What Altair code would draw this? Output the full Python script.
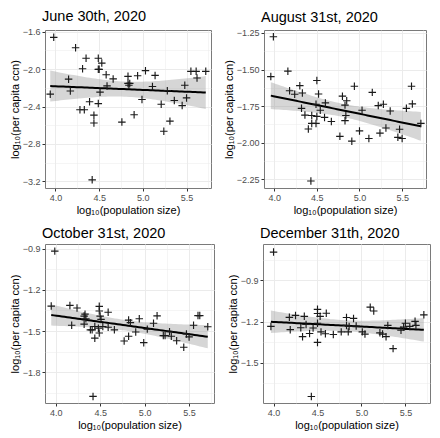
import json
import altair as alt
import numpy as np
import pandas as pd

titles = ["June 30th, 2020", "August 31st, 2020", "October 31st, 2020", "December 31th, 2020"]

jun_x = [3.94, 3.98, 4.15, 4.17, 4.23, 4.28, 4.31, 4.33, 4.35, 4.39, 4.42, 4.44, 4.44, 4.49, 4.49, 4.49,
         4.50, 4.51, 4.53, 4.58, 4.59, 4.66, 4.76, 4.83, 4.83, 4.84, 4.85, 4.90, 4.94, 4.99, 5.03, 5.11,
         5.14, 5.21, 5.24, 5.28, 5.31, 5.36, 5.45, 5.48, 5.50, 5.55, 5.61, 5.62, 5.72]
jun_y = [-2.268, -1.661, -2.108, -2.234, -1.773, -2.434, -1.997, -2.434, -1.885, -2.349, -3.183, -2.492,
         -2.576, -1.885, -2.003, -2.369, -2.003, -2.247, -1.936, -2.061, -2.180, -2.105, -2.566, -2.078,
         -2.153, -2.173, -2.153, -2.488, -2.071, -2.325, -2.017, -2.186, -2.068, -2.376, -2.664, -2.231,
         -2.556, -2.336, -2.390, -2.173, -2.308, -2.024, -2.024, -2.095, -2.024]

aug_x = [3.96, 3.99, 4.16, 4.18, 4.24, 4.30, 4.32, 4.33, 4.36, 4.40, 4.43, 4.44, 4.44, 4.49, 4.49, 4.50,
         4.50, 4.52, 4.54, 4.59, 4.60, 4.67, 4.77, 4.80, 4.83, 4.83, 4.84, 4.85, 4.91, 4.94, 5.00, 5.03,
         5.11, 5.15, 5.22, 5.24, 5.28, 5.31, 5.36, 5.45, 5.47, 5.50, 5.55, 5.61, 5.62, 5.72]
aug_y = [-1.548, -1.276, -1.511, -1.645, -1.669, -1.610, -1.765, -1.660, -1.811, -1.906, -2.261, -1.814,
         -1.868, -1.868, -1.737, -1.575, -1.820, -1.667, -1.778, -1.827, -1.728, -1.855, -1.956, -1.682,
         -1.743, -1.849, -1.814, -1.713, -1.989, -1.614, -1.919, -1.778, -1.971, -1.656, -1.746, -1.934,
         -1.737, -1.899, -1.783, -1.963, -1.908, -1.971, -1.765, -1.614, -1.735, -1.868]

oct_x = [3.95, 3.99, 4.16, 4.18, 4.24, 4.32, 4.32, 4.33, 4.34, 4.39, 4.41, 4.42, 4.44, 4.44, 4.48, 4.49,
         4.49, 4.49, 4.50, 4.51, 4.53, 4.59, 4.59, 4.66, 4.77, 4.82, 4.82, 4.84, 4.90, 4.94, 4.99, 5.03,
         5.10, 5.14, 5.21, 5.23, 5.28, 5.30, 5.36, 5.44, 5.47, 5.50, 5.55, 5.60, 5.62, 5.71]
oct_y = [-1.318, -0.917, -1.313, -1.458, -1.332, -1.391, -1.450, -1.377, -1.410, -1.491, -1.491, -1.977,
         -1.467, -1.552, -1.479, -1.320, -1.354, -1.514, -1.391, -1.415, -1.467, -1.363, -1.472, -1.491,
         -1.573, -1.538, -1.420, -1.439, -1.507, -1.410, -1.585, -1.486, -1.443, -1.389, -1.533, -1.533,
         -1.505, -1.538, -1.571, -1.618, -1.521, -1.543, -1.458, -1.387, -1.387, -1.469]

dec_x = [3.97, 4.00, 4.18, 4.19, 4.25, 4.31, 4.33, 4.35, 4.37, 4.41, 4.43, 4.45, 4.50, 4.50, 4.50, 4.50,
         4.53, 4.54, 4.59, 4.60, 4.68, 4.77, 4.83, 4.83, 4.85, 4.86, 4.91, 4.94, 5.01, 5.04, 5.10, 5.14,
         5.21, 5.24, 5.28, 5.30, 5.36, 5.45, 5.48, 5.50, 5.55, 5.61, 5.62, 5.71]
dec_y = [-1.235, -0.694, -1.169, -1.259, -1.155, -1.245, -1.310, -1.162, -1.221, -1.287, -1.746, -1.247,
         -1.111, -1.141, -1.212, -1.352, -1.162, -1.275, -1.289, -1.139, -1.294, -1.275, -1.170, -1.228,
         -1.275, -1.235, -1.177, -1.233, -1.275, -1.291, -1.095, -1.123, -1.282, -1.291, -1.310, -1.228,
         -1.397, -1.263, -1.240, -1.212, -1.235, -1.198, -1.228, -1.151]

x_major = [4.0, 4.5, 5.0, 5.5]
x_minor = [4.25, 4.75, 5.25, 5.75]
y_major = [[-1.6, -2.0, -2.4, -2.8, -3.2], [-1.25, -1.5, -1.75, -2.0, -2.25],
           [-0.9, -1.2, -1.5, -1.8], [-0.9, -1.2, -1.5]]
y_minor = [[-1.8, -2.2, -2.6, -3.0], [-1.375, -1.625, -1.875, -2.125],
           [-1.05, -1.35, -1.65, -1.95], [-0.75, -1.05, -1.35, -1.65]]
y_domains = [[-3.27, -1.583], [-2.309, -1.23], [-2.025, -0.865], [-1.793, -0.635]]
y_formats = [".1f", ".2f", ".1f", ".1f"]
x_domain = [3.88, 5.78]

CROSS = "M-1,0L1,0M0,-1L0,1"


def band(xs, ys):
    x = np.asarray(xs, float)
    y = np.asarray(ys, float)
    n = len(x)
    b, a = np.polyfit(x, y, 1)
    r = y - (a + b * x)
    s = np.sqrt(r @ r / (n - 2))
    sxx = ((x - x.mean()) ** 2).sum()
    gx = np.linspace(x.min(), x.max(), 60)
    f = a + b * gx
    se = s * np.sqrt(1 / n + (gx - x.mean()) ** 2 / sxx)
    t = 2.016
    return pd.DataFrame({"x": gx, "fit": f, "lo": f - t * se, "hi": f + t * se})


def axis_props(major, minor, fmt, title):
    test = "indexof(%s, datum.value) >= 0" % json.dumps(major)
    return alt.Axis(
        values=sorted(major + minor),
        format=fmt,
        title=title,
        labelExpr="%s ? datum.label : ''" % test,
        labelOverlap=False,
        labelBound=False,
        labelFlush=False,
        gridColor="#ebebeb",
        gridWidth={"condition": {"test": test, "value": 1.0}, "value": 0.5},
        tickOpacity={"condition": {"test": test, "value": 1}, "value": 0},
    )


def panel(i, xs, ys, W, H):
    pts = pd.DataFrame({"x": xs, "y": ys})
    bd = band(xs, ys)
    xsc = alt.Scale(domain=x_domain, nice=False, zero=False)
    ysc = alt.Scale(domain=y_domains[i], nice=False, zero=False)
    xax = axis_props(x_major, x_minor, ".1f", "log₁₀(population size)")
    yax = axis_props(y_major[i], y_minor[i], y_formats[i], "log₁₀(per capita ccn)")
    area = alt.Chart(bd).mark_area(color="#999999", opacity=0.4).encode(
        x=alt.X("x:Q", scale=xsc, axis=xax),
        y=alt.Y("lo:Q", scale=ysc, axis=yax),
        y2="hi:Q",
    )
    line = alt.Chart(bd).mark_line(color="black", strokeWidth=2).encode(
        x=alt.X("x:Q", axis=xax), y=alt.Y("fit:Q", axis=yax)
    )
    dots = alt.Chart(pts).mark_point(
        shape=CROSS, size=56, filled=False, color="#1a1a1a", strokeWidth=1.15, opacity=1
    ).encode(x=alt.X("x:Q", axis=xax), y=alt.Y("y:Q", axis=yax))
    return alt.layer(area, line, dots).properties(
        width=W, height=H, title=alt.TitleParams(titles[i], frame="group", anchor="start", dx=-3)
    )


p1 = panel(0, jun_x, jun_y, 166, 158)
p2 = panel(1, aug_x, aug_y, 162, 158)
p3 = panel(2, oct_x, oct_y, 169, 159)
p4 = panel(3, dec_x, dec_y, 167, 159)

row1 = alt.hconcat(p1, p2, spacing=9)
row2 = alt.hconcat(p3, p4, spacing=11)

chart = alt.vconcat(row1, row2, spacing=9).configure_view(
    stroke="#7a7a7a", strokeWidth=1
).configure_axis(
    labelColor="#4d4d4d", labelFontSize=9, labelFont="Liberation Sans",
    titleFont="Liberation Sans", titleFontSize=11, titleFontWeight="normal", titleColor="black",
    tickColor="#333333", tickSize=3, labelPadding=2, titlePadding=2, domain=False, grid=True,
    labelOverlap=False,
).configure_title(
    font="Liberation Sans", fontSize=14.5, fontWeight="normal", color="black", offset=3
).properties(padding=0)

chart.save("out.html", embed_options={"renderer": "svg", "actions": False})
